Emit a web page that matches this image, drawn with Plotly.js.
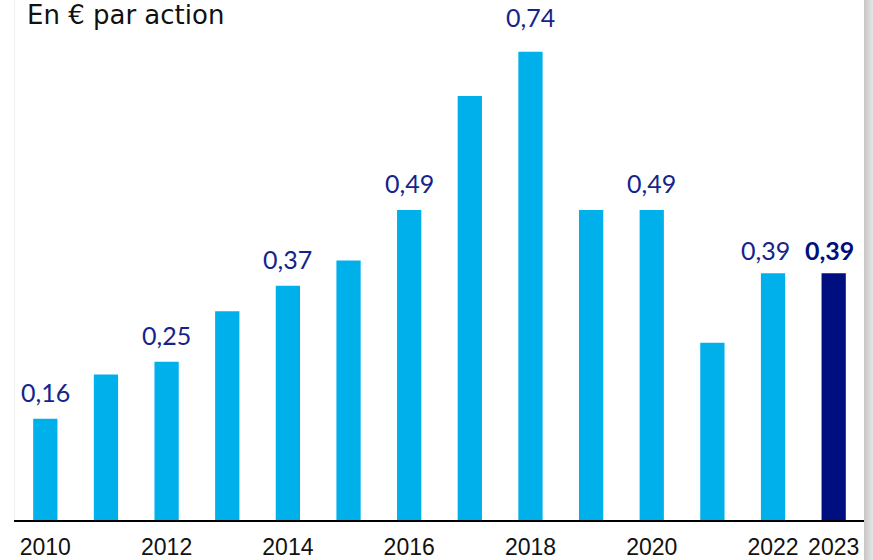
<!DOCTYPE html>
<html>
<head>
<meta charset="utf-8">
<script src="https://cdn.plot.ly/plotly-3.0.1.min.js"></script>
<style>
  html, body { margin: 0; padding: 0; background: #ffffff; }
  #chart { position: absolute; left: 0; top: 0; width: 864px; height: 560px; }
  #edge { position: absolute; left: 864px; top: 0; width: 9px; height: 560px;
          background: linear-gradient(to right, #c6c6c6, #e6e6e6); }
</style>
</head>
<body>
<div id="chart"></div>
<div id="edge"></div>
<script>
// Data
const years = ['2010','2011','2012','2013','2014','2015','2016','2017','2018','2019','2020','2021','2022','2023'];
const dividends = [0.16, 0.23, 0.25, 0.33, 0.37, 0.41, 0.49, 0.67, 0.74, 0.49, 0.49, 0.28, 0.39, 0.39];
const labelled = [true, false, true, false, true, false, true, false, true, false, true, false, true, true];
const tickYears = ['2010','2012','2014','2016','2018','2020','2022','2023'];
const highlightYear = '2023';

const lightBlue = '#00b0eb';
const darkBlue = '#000f80';
const labelColor = '#14248c';

const colors = years.map(y => y === highlightYear ? darkBlue : lightBlue);
const fmt = v => v.toFixed(2).replace('.', ',');

const annotations = [];
years.forEach((yr, i) => {
  if (!labelled[i]) return;
  const bold = yr === highlightYear;
  let ys = 10;
  if (yr === '2022' || yr === '2023') ys = 6;
  if (yr === '2018') ys = 18;
  annotations.push({
    x: i, y: dividends[i], xref: 'x', yref: 'y',
    text: bold ? '<b>' + fmt(dividends[i]) + '</b>' : fmt(dividends[i]),
    showarrow: false, yanchor: 'bottom', xanchor: 'center',
    yshift: ys, xshift: (yr === '2022') ? -8 : (bold ? -4 : 0),
    font: { family: 'Lato, "Open Sans", sans-serif', size: 25, color: bold ? darkBlue : labelColor }
  });
});

const trace = {
  type: 'bar', x: years, y: dividends,
  marker: { color: colors, line: { width: 0 } },
  hoverinfo: 'x+y'
};

const layout = {
  width: 864, height: 560,
  margin: { l: 15, r: 0, t: 0, b: 40 },
  paper_bgcolor: '#ffffff', plot_bgcolor: '#ffffff',
  bargap: 0.6,
  showlegend: false,
  title: {
    text: 'En € par action',
    x: 27 / 864, xanchor: 'left', xref: 'container',
    y: 0.99, yanchor: 'top', yref: 'container',
    pad: { t: 0, l: 0 },
    font: { family: '"DejaVu Sans", sans-serif', size: 26, color: '#111111' }
  },
  xaxis: {
    type: 'category', range: [-0.5, 13.5],
    tickvals: tickYears, ticktext: tickYears,
    showline: true, linecolor: '#000000', linewidth: 1.5,
    showgrid: false, zeroline: false, ticks: '',
    ticklabelstandoff: 6,
    tickfont: { family: '"Liberation Sans", Arial, sans-serif', size: 23, color: '#111111' },
    fixedrange: true
  },
  yaxis: {
    range: [0, 520 / 632.8],
    showline: true, linecolor: '#f0f0f0', linewidth: 1,
    showgrid: false, zeroline: false, showticklabels: false, ticks: '',
    fixedrange: true
  },
  annotations: annotations
};

Plotly.newPlot('chart', [trace], layout, { displayModeBar: false, staticPlot: true });
</script>
</body>
</html>
